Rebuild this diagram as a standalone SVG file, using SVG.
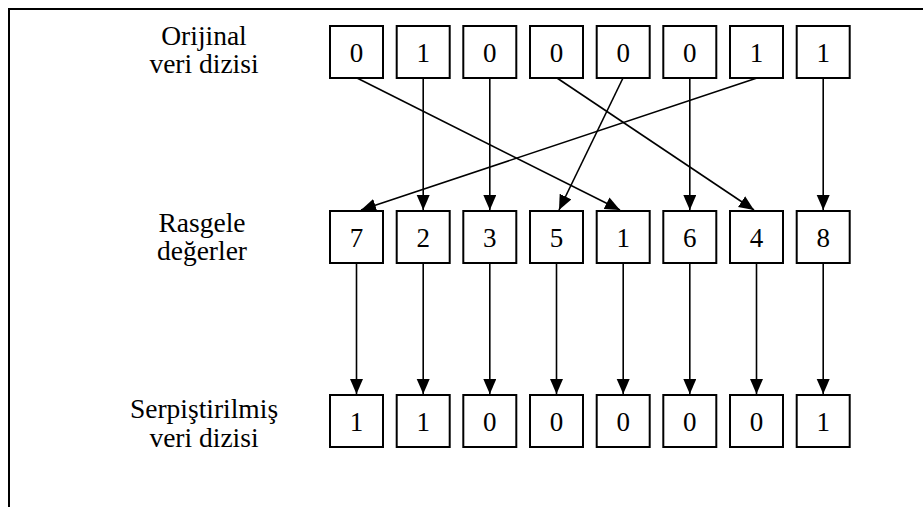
<svg xmlns="http://www.w3.org/2000/svg" width="923" height="507" viewBox="0 0 923 507">
  <style>
    .box rect { fill: #fff; stroke: #000; stroke-width: 2; }
    .box text { font-family: "Liberation Serif", "Times New Roman", serif; font-size: 27px; fill: #000; text-anchor: middle; }
    .label { font-family: "Liberation Serif", "Times New Roman", serif; font-size: 27.5px; fill: #000; text-anchor: middle; }
    .edge { stroke: #000; stroke-width: 1.6; fill: none; marker-end: url(#arrow); }
    .frame { stroke: #000; stroke-width: 2; fill: none; }
  </style>
  <defs>
    <marker id="arrow" markerUnits="userSpaceOnUse" markerWidth="16" markerHeight="14" refX="15" refY="6.5" orient="auto">
      <path d="M0,0 L15,6.5 L0,13 z" fill="#000"/>
    </marker>
  </defs>

  <rect width="923" height="507" fill="#fff"/>
  <!-- outer frame: left and top edges -->
  <path class="frame" d="M9,507 V9 H923"/>

  <!-- row labels -->
  <g id="label-original">
    <text class="label" x="204" y="45">Orijinal</text>
    <text class="label" x="204" y="73">veri dizisi</text>
  </g>
  <g id="label-random">
    <text class="label" x="202" y="232">Rasgele</text>
    <text class="label" x="202" y="260">değerler</text>
  </g>
  <g id="label-interleaved">
    <text class="label" x="204" y="418">Serpiştirilmiş</text>
    <text class="label" x="204" y="447">veri dizisi</text>
  </g>

  <!-- original data row -->
  <g id="o0" class="box"><rect x="330" y="26" width="53" height="52"/><text x="356.5" y="62">0</text></g>
  <g id="o1" class="box"><rect x="396.7" y="26" width="53" height="52"/><text x="423.2" y="62">1</text></g>
  <g id="o2" class="box"><rect x="463.3" y="26" width="53" height="52"/><text x="489.8" y="62">0</text></g>
  <g id="o3" class="box"><rect x="530" y="26" width="53" height="52"/><text x="556.5" y="62">0</text></g>
  <g id="o4" class="box"><rect x="596.7" y="26" width="53" height="52"/><text x="623.2" y="62">0</text></g>
  <g id="o5" class="box"><rect x="663.3" y="26" width="53" height="52"/><text x="689.8" y="62">0</text></g>
  <g id="o6" class="box"><rect x="730" y="26" width="53" height="52"/><text x="756.5" y="62">1</text></g>
  <g id="o7" class="box"><rect x="796.7" y="26" width="53" height="52"/><text x="823.2" y="62">1</text></g>

  <!-- random values row -->
  <g id="r0" class="box"><rect x="330" y="211" width="53" height="52"/><text x="356.5" y="247">7</text></g>
  <g id="r1" class="box"><rect x="396.7" y="211" width="53" height="52"/><text x="423.2" y="247">2</text></g>
  <g id="r2" class="box"><rect x="463.3" y="211" width="53" height="52"/><text x="489.8" y="247">3</text></g>
  <g id="r3" class="box"><rect x="530" y="211" width="53" height="52"/><text x="556.5" y="247">5</text></g>
  <g id="r4" class="box"><rect x="596.7" y="211" width="53" height="52"/><text x="623.2" y="247">1</text></g>
  <g id="r5" class="box"><rect x="663.3" y="211" width="53" height="52"/><text x="689.8" y="247">6</text></g>
  <g id="r6" class="box"><rect x="730" y="211" width="53" height="52"/><text x="756.5" y="247">4</text></g>
  <g id="r7" class="box"><rect x="796.7" y="211" width="53" height="52"/><text x="823.2" y="247">8</text></g>

  <!-- interleaved data row -->
  <g id="s0" class="box"><rect x="330" y="395" width="53" height="52"/><text x="356.5" y="431">1</text></g>
  <g id="s1" class="box"><rect x="396.7" y="395" width="53" height="52"/><text x="423.2" y="431">1</text></g>
  <g id="s2" class="box"><rect x="463.3" y="395" width="53" height="52"/><text x="489.8" y="431">0</text></g>
  <g id="s3" class="box"><rect x="530" y="395" width="53" height="52"/><text x="556.5" y="431">0</text></g>
  <g id="s4" class="box"><rect x="596.7" y="395" width="53" height="52"/><text x="623.2" y="431">0</text></g>
  <g id="s5" class="box"><rect x="663.3" y="395" width="53" height="52"/><text x="689.8" y="431">0</text></g>
  <g id="s6" class="box"><rect x="730" y="395" width="53" height="52"/><text x="756.5" y="431">0</text></g>
  <g id="s7" class="box"><rect x="796.7" y="395" width="53" height="52"/><text x="823.2" y="431">1</text></g>

  <!-- connectors -->
  <g id="connectors">
    <!-- original -> random position -->
    <line class="edge" x1="357" y1="78" x2="620" y2="210"/>
    <line class="edge" x1="423.2" y1="78" x2="423.2" y2="210"/>
    <line class="edge" x1="489.8" y1="78" x2="489.8" y2="210"/>
    <line class="edge" x1="557" y1="78" x2="754" y2="210"/>
    <line class="edge" x1="623" y1="78" x2="559" y2="210"/>
    <line class="edge" x1="689.8" y1="78" x2="689.8" y2="210"/>
    <line class="edge" x1="757" y1="78" x2="361" y2="210"/>
    <line class="edge" x1="823.2" y1="78" x2="823.2" y2="210"/>
    <!-- random position -> interleaved -->
    <line class="edge" x1="356.5" y1="263" x2="356.5" y2="394"/>
    <line class="edge" x1="423.2" y1="263" x2="423.2" y2="394"/>
    <line class="edge" x1="489.8" y1="263" x2="489.8" y2="394"/>
    <line class="edge" x1="556.5" y1="263" x2="556.5" y2="394"/>
    <line class="edge" x1="623.2" y1="263" x2="623.2" y2="394"/>
    <line class="edge" x1="689.8" y1="263" x2="689.8" y2="394"/>
    <line class="edge" x1="756.5" y1="263" x2="756.5" y2="394"/>
    <line class="edge" x1="823.2" y1="263" x2="823.2" y2="394"/>
  </g>
</svg>
